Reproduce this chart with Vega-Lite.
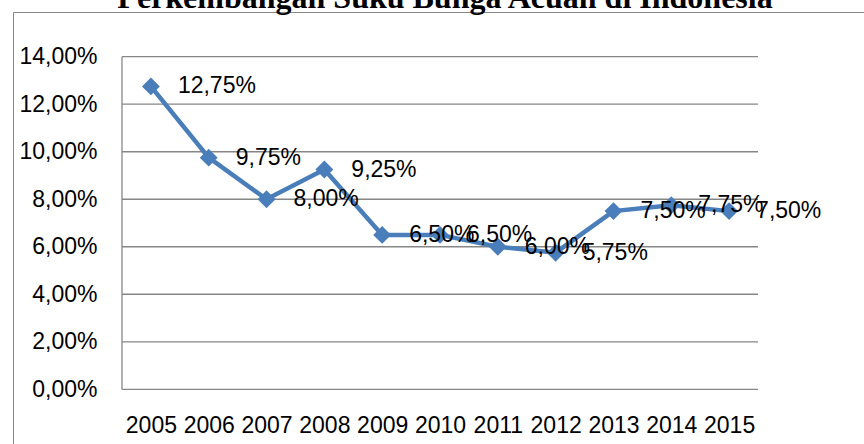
{
  "$schema": "https://vega.github.io/schema/vega-lite/v6.json",
  "autosize": {"type": "none"},
  "padding": {"left": 13, "top": 12, "right": 0, "bottom": 0},
  "width": 864,
  "height": 440,
  "background": "white",
  "config": {
    "view": {"stroke": "#878787", "strokeWidth": 1},
    "locale": {"number": {"decimal": ",", "thousands": ".", "grouping": [3], "currency": ["", ""]}},
    "font": "Liberation Sans"
  },
  "title": {
    "text": "Perkembangan Suku Bunga Acuan di Indonesia",
    "font": "Liberation Serif",
    "fontSize": 32,
    "fontWeight": "bold",
    "color": "black",
    "anchor": "middle",
    "baseline": "alphabetic",
    "frame": "group",
    "offset": 0,
    "dy": 28
  },
  "datasets": {
    "rates": [
      {"year": 2005, "rate": 0.1275},
      {"year": 2006, "rate": 0.0975},
      {"year": 2007, "rate": 0.08},
      {"year": 2008, "rate": 0.0925},
      {"year": 2009, "rate": 0.065},
      {"year": 2010, "rate": 0.065},
      {"year": 2011, "rate": 0.06},
      {"year": 2012, "rate": 0.0575},
      {"year": 2013, "rate": 0.075},
      {"year": 2014, "rate": 0.0775},
      {"year": 2015, "rate": 0.075}
    ],
    "grid": [
      {"v": 0}, {"v": 0.02}, {"v": 0.04}, {"v": 0.06}, {"v": 0.08}, {"v": 0.1}, {"v": 0.12}, {"v": 0.14}
    ]
  },
  "layer": [
    {
      "data": {"name": "grid"},
      "mark": {"type": "rule", "color": "#868686", "strokeWidth": 1.3},
      "encoding": {
        "y": {
          "field": "v", "type": "quantitative",
          "scale": {"domain": [-0.026392, 0.158816], "nice": false, "zero": false},
          "axis": {
            "orient": "left", "offset": -109, "values": [0, 0.02, 0.04, 0.06, 0.08, 0.1, 0.12, 0.14],
            "format": ".2%", "domain": false, "ticks": false, "grid": false,
            "labelPadding": 25, "labelFontSize": 23, "labelColor": "black", "labelFont": "Liberation Sans",
            "title": null
          }
        },
        "x": {
          "datum": 2004.5, "type": "quantitative",
          "scale": {"domain": [2002.615, 2017.558], "nice": false, "zero": false},
          "axis": {
            "orient": "bottom", "offset": -62.7, "values": [2005, 2006, 2007, 2008, 2009, 2010, 2011, 2012, 2013, 2014, 2015],
            "format": "d", "domain": false, "ticks": false, "grid": false,
            "labelPadding": 25, "labelFontSize": 23, "labelColor": "black", "labelFont": "Liberation Sans",
            "labelFlush": false, "labelOverlap": false, "title": null
          }
        },
        "x2": {"datum": 2015.5}
      }
    },
    {
      "data": {"values": [{"a": 0, "b": 0.14}]},
      "mark": {"type": "rule", "color": "#868686", "strokeWidth": 1.3},
      "encoding": {
        "x": {"datum": 2004.5, "type": "quantitative"},
        "y": {"field": "a", "type": "quantitative"},
        "y2": {"field": "b"}
      }
    },
    {
      "data": {"name": "rates"},
      "mark": {"type": "line", "color": "#4A7EBB", "strokeWidth": 4.5},
      "encoding": {
        "x": {"field": "year", "type": "quantitative"},
        "y": {"field": "rate", "type": "quantitative"}
      }
    },
    {
      "data": {"name": "rates"},
      "mark": {"type": "point", "shape": "diamond", "filled": true, "color": "#4A7EBB", "size": 320, "opacity": 1},
      "encoding": {
        "x": {"field": "year", "type": "quantitative"},
        "y": {"field": "rate", "type": "quantitative"}
      }
    },
    {
      "data": {"name": "rates"},
      "mark": {"type": "text", "align": "left", "baseline": "middle", "dx": 27, "fontSize": 23, "color": "black", "font": "Liberation Sans"},
      "encoding": {
        "x": {"field": "year", "type": "quantitative"},
        "y": {"field": "rate", "type": "quantitative"},
        "text": {"field": "rate", "type": "quantitative", "format": ".2%"}
      }
    }
  ]
}
